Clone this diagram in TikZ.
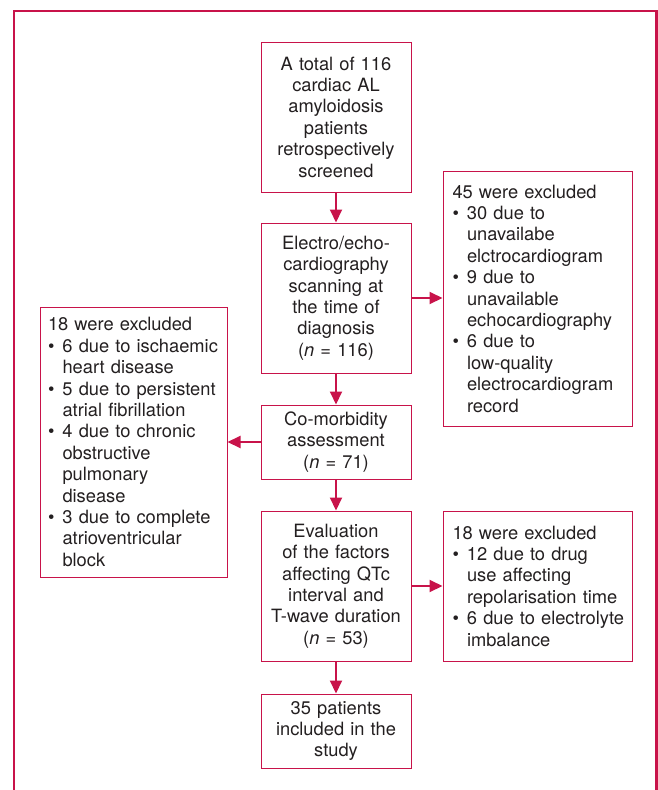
\documentclass[tikz,border=0pt]{standalone}
\usepackage{fontspec}
\setmainfont{TeX Gyre Heros}
\usetikzlibrary{arrows.meta}
\definecolor{crim}{HTML}{C8134A}
\definecolor{ink}{HTML}{231F20}
\newcommand\bulitem[1]{\mbox{\makebox[14.5pt][l]{\textbullet}#1}}
\newcommand\bulind[1]{\mbox{\hspace*{14.5pt}#1}}
\begin{document}
\begin{tikzpicture}[x=1pt,y=-1pt,
  every node/.style={font=\fontsize{18.3}{21.4}\selectfont, text=ink},
  cbox/.style={draw=crim, line width=1pt, align=center, inner sep=0pt,
    minimum width=150pt, text width=146pt},
  lbox/.style={draw=crim, line width=1pt, align=left, inner xsep=8pt, inner ysep=0pt},
  arr/.style={draw=crim, line width=2pt, -{Triangle[length=13pt,width=12pt]}},
  frame/.style={draw=crim, line width=2.3pt}]
\useasboundingbox (0,0) rectangle (658,790);
\draw[frame] (14,800) -- (14,11) -- (656.5,11) -- (656.5,800);

\node[cbox, minimum height=150pt] (b1) at (336,117)
  {A total of 116\\cardiac AL\\amyloidosis\\patients\\retrospectively\\screened};
\node[cbox, minimum height=150pt] (b2) at (336,298)
  {Electro/echo-\\cardiography\\scanning at\\the time of\\diagnosis\\(\textit{n} = 116)};
\node[cbox, minimum height=74pt] (b3) at (336,442)
  {Co-morbidity\\assessment\\(\textit{n} = 71)};
\node[cbox, minimum height=150pt] (b4) at (336,586)
  {Evaluation\\of the factors\\affecting QTc\\interval and\\T-wave duration\\(\textit{n} = 53)};
\node[cbox, minimum height=74pt] (b5) at (336,731)
  {35 patients\\included in the\\study};

\node[lbox, inner xsep=9.5pt, text width=170pt, minimum height=255pt] (r1) at (537.5,298.5)
  {45 were excluded\\
   \bulitem{30 due to}\\\bulind{unavailabe}\\\bulind{elctrocardiogram}\\
   \bulitem{9 due to}\\\bulind{unavailable}\\\bulind{echocardiography}\\
   \bulitem{6 due to}\\\bulind{low-quality}\\\bulind{electrocardiogram}\\\bulind{record}};

\node[lbox, inner xsep=9.5pt, text width=170pt, minimum height=150pt] (r2) at (537.5,586)
  {18 were excluded\\
   \bulitem{12 due to drug}\\\bulind{use affecting}\\\bulind{repolarisation time}\\
   \bulitem{6 due to electrolyte}\\\bulind{imbalance}};

\node[lbox, text width=171pt, minimum height=270pt] (l1) at (133.5,442)
  {18 were excluded\\
   \bulitem{6 due to ischaemic}\\\bulind{heart disease}\\
   \bulitem{5 due to persistent}\\\bulind{atrial fibrillation}\\
   \bulitem{4 due to chronic}\\\bulind{obstructive}\\\bulind{pulmonary}\\\bulind{disease}\\
   \bulitem{3 due to complete}\\\bulind{atrioventricular}\\\bulind{block}};

\draw[arr] (b1) -- (b2);
\draw[arr] (b2) -- (b3);
\draw[arr] (b3) -- (b4);
\draw[arr] (b4) -- (b5);
\draw[arr] (b2.east) -- (b2.east -| r1.west);
\draw[arr] (b3.west) -- (b3.west -| l1.east);
\draw[arr] (b4.east) -- (b4.east -| r2.west);
\end{tikzpicture}
\end{document}
